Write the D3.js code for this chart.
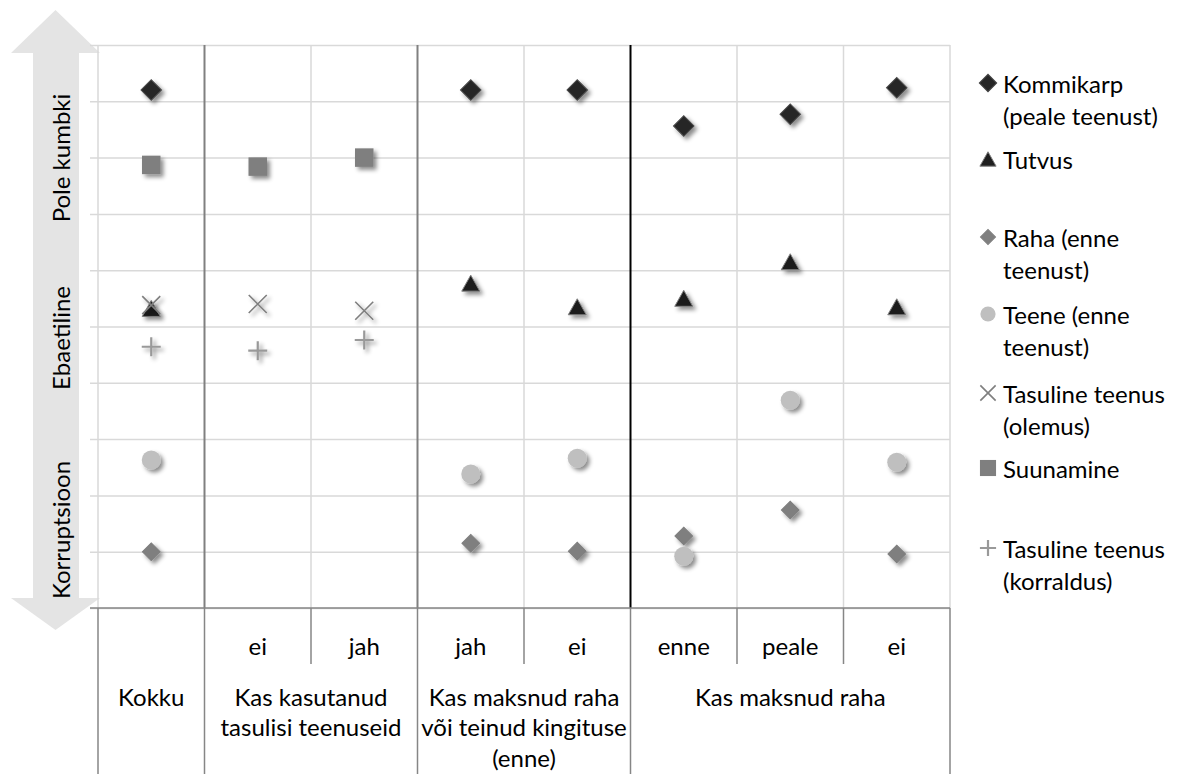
<!DOCTYPE html>
<html>
<head>
<meta charset="utf-8">
<script src="https://cdn.jsdelivr.net/npm/d3@7"></script>
<style>
  html, body { margin: 0; padding: 0; background: #fff; }
  svg text { font-family: Lato, "Open Sans", sans-serif; fill: #000; }
</style>
</head>
<body>
<div id="chart"></div>
<script>
// ── Data ────────────────────────────────────────────────────────────────────
const level1 = ['', 'ei', 'jah', 'jah', 'ei', 'enne', 'peale', 'ei'];
const groupLabels = [
  ['Kokku'],
  ['Kas kasutanud', 'tasulisi teenuseid'],
  ['Kas maksnud raha', 'või teinud kingituse', '(enne)'],
  ['Kas maksnud raha']
];
const groupSpans = [1, 2, 2, 3];
const axisLabels = ['Pole kumbki', 'Ebaetiline', 'Korruptsioon'];

const kommikarp = [9.2, null, null, 9.2, 9.2, 8.56, 8.77, 9.24];
const tutvus    = [5.32, null, null, 5.77, 5.35, 5.5, 6.15, 5.35];
const raha      = [1.0, null, null, 1.15, 1.01, 1.28, 1.74, 0.96];
const teene     = [2.63, null, null, 2.38, 2.66, 0.92, 3.69, 2.59];
const olemus    = [5.38, 5.4, 5.28, null, null, null, null, null];
const suunamine = [7.87, 7.84, 8.0, null, null, null, null, null];
const korraldus = [4.64, 4.57, 4.76, null, null, null, null, null];

const seriesNames = [
  ['Kommikarp', '(peale teenust)'],
  ['Tutvus'],
  ['Raha (enne', 'teenust)'],
  ['Teene (enne', 'teenust)'],
  ['Tasuline teenus', '(olemus)'],
  ['Suunamine'],
  ['Tasuline teenus', '(korraldus)']
];

// ── Layout ──────────────────────────────────────────────────────────────────
const W = 1177, H = 774;
const plotL = 98, plotR = 950, plotT = 45, plotB = 608;
const FONT = 24;

const svg = d3.select('#chart').append('svg').attr('width', W).attr('height', H);

const defs = svg.append('defs');
defs.append('filter').attr('id', 'shadow')
  .attr('x', '-50%').attr('y', '-50%').attr('width', '200%').attr('height', '200%')
  .append('feDropShadow')
  .attr('dx', 3).attr('dy', 3).attr('stdDeviation', 2)
  .attr('flood-color', '#000').attr('flood-opacity', 0.45);

const x = d3.scaleBand().domain(d3.range(level1.length)).range([plotL, plotR]).padding(0);
const y = d3.scaleLinear().domain([0, 10]).range([plotB, plotT]);

// Up/down arrow behind the y-axis labels
const arrow = [
  [55.5, 10], [100, 53], [79, 53], [79, 598], [100, 598],
  [55.5, 630], [11, 598], [33, 598], [33, 53], [11, 53]
];
svg.append('path').attr('d', d3.line()(arrow) + 'Z').attr('fill', '#e4e4e4');

const labelY = [158, 338, 530];
axisLabels.forEach((t, i) => {
  svg.append('text')
    .attr('transform', `translate(60,${labelY[i]}) rotate(-90)`)
    .attr('text-anchor', 'middle').attr('dominant-baseline', 'central')
    .attr('font-size', FONT).text(t);
});

// Horizontal grid (with short outside ticks)
const yAxisG = svg.append('g').attr('transform', `translate(${plotL},0)`)
  .call(d3.axisLeft(y).ticks(10).tickSize(-(plotR - plotL)).tickFormat(''));
yAxisG.select('.domain').remove();
yAxisG.selectAll('line').attr('x1', -8).attr('stroke', '#d9d9d9').attr('stroke-width', 1.5);

// Vertical lines at category boundaries
const bounds = d3.range(level1.length + 1).map(i => i < level1.length ? x(i) : plotR);
const vStyle = i => i === 5 ? { c: '#000', w: 2 } : (i === 1 || i === 3) ? { c: '#808080', w: 2 } : { c: '#d9d9d9', w: 1.5 };
bounds.forEach((bx, i) => {
  const s = vStyle(i);
  svg.append('line')
    .attr('x1', bx).attr('x2', bx).attr('y1', plotT).attr('y2', plotB)
    .attr('stroke', s.c).attr('stroke-width', s.w);
});

// Category table below the plot
svg.append('line').attr('x1', plotL - 8).attr('x2', plotR).attr('y1', plotB).attr('y2', plotB)
  .attr('stroke', '#868686').attr('stroke-width', 1.5);
const groupStarts = [];
groupSpans.reduce((acc, s) => { groupStarts.push(acc); return acc + s; }, 0);
bounds.forEach((bx, i) => {
  const full = i === level1.length || groupStarts.includes(i);
  svg.append('line')
    .attr('x1', bx).attr('x2', bx).attr('y1', plotB).attr('y2', full ? H : 664)
    .attr('stroke', '#868686').attr('stroke-width', 1.5);
});
level1.forEach((t, i) => {
  if (!t) return;
  svg.append('text')
    .attr('x', x(i) + x.bandwidth() / 2).attr('y', 645)
    .attr('text-anchor', 'middle').attr('dominant-baseline', 'central')
    .attr('font-size', FONT).text(t);
});
groupLabels.forEach((lines, g) => {
  const cx = (bounds[groupStarts[g]] + bounds[groupStarts[g] + groupSpans[g]]) / 2;
  lines.forEach((t, k) => {
    svg.append('text')
      .attr('x', cx).attr('y', 696 + k * 30.5)
      .attr('text-anchor', 'middle').attr('dominant-baseline', 'central')
      .attr('font-size', FONT).text(t);
  });
});

// ── Markers ─────────────────────────────────────────────────────────────────
function drawMarker(g, type, scale) {
  const k = scale || 1;
  if (type === 'diamondDark' || type === 'diamondGray') {
    const s = (type === 'diamondDark' ? 14.5 : 12.5) * k;
    g.append('rect').attr('x', -s / 2).attr('y', -s / 2).attr('width', s).attr('height', s)
      .attr('transform', 'rotate(45)')
      .attr('fill', type === 'diamondDark' ? '#262626' : '#7f7f7f')
      .attr('stroke', type === 'diamondDark' ? '#4a4a4a' : '#7f7f7f').attr('stroke-width', 1);
  } else if (type === 'triangle') {
    const w = 18 * k, h = 16 * k;
    g.append('path').attr('d', `M0,${-h / 2}L${w / 2},${h / 2}L${-w / 2},${h / 2}Z`)
      .attr('fill', '#1f1f1f').attr('stroke', '#808080').attr('stroke-width', 1);
  } else if (type === 'circle') {
    g.append('circle').attr('r', 9.5 * k).attr('fill', '#bfbfbf');
  } else if (type === 'cross') {
    const a = 9 * k;
    g.append('path').attr('d', `M${-a},${-a}L${a},${a}M${-a},${a}L${a},${-a}`)
      .attr('stroke', '#7f7f7f').attr('stroke-width', 1.6).attr('fill', 'none');
  } else if (type === 'square') {
    const s = 18.5 * k;
    g.append('rect').attr('x', -s / 2).attr('y', -s / 2).attr('width', s).attr('height', s)
      .attr('fill', '#7f7f7f');
  } else if (type === 'plus') {
    const a = 9.5 * k;
    g.append('path').attr('d', `M${-a},0L${a},0M0,${-a}L0,${a}`)
      .attr('stroke', '#999').attr('stroke-width', 2.2).attr('fill', 'none');
  }
}

const series = [
  { values: kommikarp, type: 'diamondDark' },
  { values: tutvus,    type: 'triangle' },
  { values: raha,      type: 'diamondGray' },
  { values: teene,     type: 'circle' },
  { values: olemus,    type: 'cross' },
  { values: suunamine, type: 'square' },
  { values: korraldus, type: 'plus' }
];

const pts = svg.append('g');
series.forEach(s => {
  s.values.forEach((v, i) => {
    if (v === null) return;
    const g = pts.append('g')
      .attr('transform', `translate(${x(i) + x.bandwidth() / 2},${y(v)})`)
      .attr('filter', 'url(#shadow)');
    drawMarker(g, s.type, 1);
  });
});

// ── Legend ──────────────────────────────────────────────────────────────────
const legendY = [83, 159, 237, 314, 393, 468, 548];
const legendScale = [0.85, 0.9, 0.85, 0.8, 0.85, 0.87, 0.85];
series.forEach((s, i) => {
  const g = svg.append('g').attr('transform', `translate(988,${legendY[i]})`);
  drawMarker(g, s.type, legendScale[i]);
  seriesNames[i].forEach((t, k) => {
    svg.append('text')
      .attr('x', 1003).attr('y', legendY[i] + k * 32)
      .attr('dominant-baseline', 'central')
      .attr('font-size', FONT).text(t);
  });
});
</script>
</body>
</html>
